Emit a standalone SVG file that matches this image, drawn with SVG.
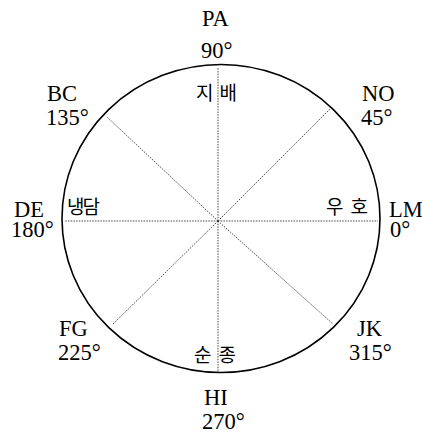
<svg xmlns="http://www.w3.org/2000/svg" width="422" height="432" viewBox="0 0 422 432">
<style>
.lbl{font-family:'Liberation Serif','Times New Roman',serif;font-size:22.5px;fill:#000}
.ko{font-family:'Noto Sans CJK KR','Noto Sans',sans-serif;font-size:19px;fill:#000}
.axis{stroke:#333;stroke-width:0.9;stroke-dasharray:1.5 1.2;fill:none}
</style>
<rect width="422" height="432" fill="#fff"/>
<g id="circle">
<ellipse cx="221" cy="218.5" rx="159" ry="154" fill="none" stroke="#000" stroke-width="1.6"/>
</g>
<g id="connectors">
<line class="axis" x1="218" y1="221" x2="218" y2="67"/>
<line class="axis" x1="218" y1="221" x2="218" y2="372"/>
<line class="axis" x1="218" y1="221" x2="64" y2="221"/>
<line class="axis" x1="218" y1="221" x2="378" y2="221"/>
<line class="axis" x1="218" y1="221" x2="107" y2="117"/>
<line class="axis" x1="218" y1="221" x2="330" y2="109"/>
<line class="axis" x1="218" y1="221" x2="112" y2="325"/>
<line class="axis" x1="218" y1="221" x2="333" y2="324"/>
</g>
<g id="node-PA"><text class="lbl" x="202" y="26">PA</text><text class="lbl" x="201" y="58">90°</text></g>
<g id="node-BC"><text class="lbl" x="47" y="101">BC</text><text class="lbl" x="46" y="125">135°</text></g>
<g id="node-NO"><text class="lbl" x="362" y="101">NO</text><text class="lbl" x="361" y="125">45°</text></g>
<g id="node-DE"><text class="lbl" x="14" y="217">DE</text><text class="lbl" x="11" y="237">180°</text></g>
<g id="node-LM"><text class="lbl" x="389" y="217">LM</text><text class="lbl" x="390" y="237">0°</text></g>
<g id="node-FG"><text class="lbl" x="59" y="336">FG</text><text class="lbl" x="58" y="360">225°</text></g>
<g id="node-HI"><text class="lbl" x="204" y="405">HI</text><text class="lbl" x="202" y="429">270°</text></g>
<g id="node-JK"><text class="lbl" x="357" y="336">JK</text><text class="lbl" x="349" y="360">315°</text></g>
<g id="label-dominance"><text class="ko" x="196" y="100" letter-spacing="6">지배</text></g>
<g id="label-coldness"><text class="ko" x="67" y="214" letter-spacing="-2">냉담</text></g>
<g id="label-friendly"><text class="ko" x="326" y="214" letter-spacing="7">우호</text></g>
<g id="label-submission"><text class="ko" x="194" y="362" letter-spacing="7">순종</text></g>
</svg>
